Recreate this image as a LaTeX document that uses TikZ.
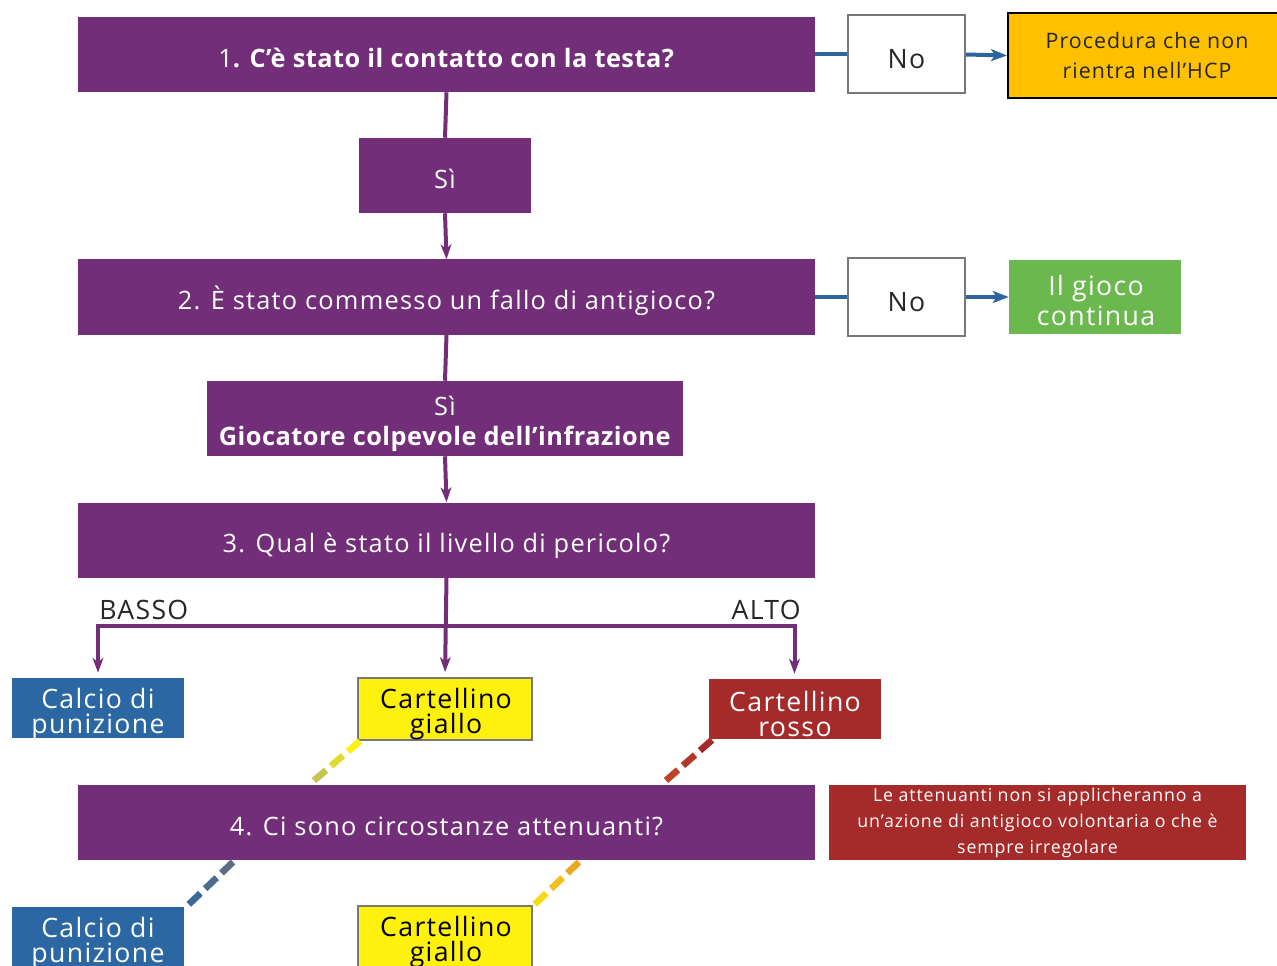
\documentclass[tikz,border=0pt]{standalone}
\usepackage{fontspec}
\setmainfont{Open Sans}[LetterSpace=5, BoldFeatures={LetterSpace=2}]
\usetikzlibrary{arrows.meta,calc}
\definecolor{viola}{RGB}{115,46,122}
\definecolor{blu}{RGB}{43,103,163}
\definecolor{bluline}{RGB}{46,100,160}
\definecolor{giallo}{RGB}{255,241,14}
\definecolor{rosso}{RGB}{165,42,42}
\definecolor{verde}{RGB}{107,184,79}
\definecolor{arancio}{RGB}{255,192,0}
\definecolor{grigio}{RGB}{120,120,120}
\definecolor{oliva}{RGB}{170,175,110}
\definecolor{rossob}{RGB}{200,80,40}
\definecolor{bluscuro}{RGB}{90,110,130}
\definecolor{ocra}{RGB}{235,168,39}
\newcommand{\gradline}[4]{%
  \foreach \t in {0,0.34,0.68}{%
    \pgfmathtruncatemacro{\pc}{100-100*\t}%
    \draw[line width=5pt, #3!\pc!#4] ($(#1)!\t!(#2)$) -- ($(#1)!\t+0.24!(#2)$);
  }%
}
\begin{document}
\begin{tikzpicture}[x=0.75pt,y=-0.75pt,
  pbox/.style={fill=viola, text=white, inner sep=0pt, align=center, text depth=0pt, text height=18.8pt,
     minimum width=552.75pt, minimum height=56.25pt, font=\fontsize{19}{22}\selectfont},
  cbox/.style={inner sep=0pt, minimum width=129pt, minimum height=45pt},
  ctxt/.style={font=\fontsize{20}{19}\selectfont, align=center, inner sep=0pt},
  nobox/.style={draw=grigio, line width=1.5pt, fill=white, minimum width=87.75pt, text depth=0pt, text height=21pt,
     minimum height=58.5pt, inner sep=0pt, font=\fontsize{20}{24}\selectfont, text=black!85},
  pline/.style={draw=viola, line width=3pt},
  parrow/.style={pline, -{Stealth[length=11pt,width=8pt,inset=3pt]}},
  bline/.style={draw=bluline, line width=3pt},
  barrow/.style={bline, -{Stealth[length=12pt,width=9pt,inset=3pt]}},
  lbl/.style={inner sep=0pt, font=\fontsize{20}{22}\selectfont, text=black!85}
]
\useasboundingbox (0,0) rectangle (1277,966);

% main purple boxes
\node[pbox] (b1) at (446.5,54.5) {1\textbf{. C’è stato il contatto con la testa?}};
\node[pbox, minimum width=129pt] (si1) at (445,175.5) {Sì};
\node[pbox] (b2) at (446.5,297) {2. È stato commesso un fallo di antigioco?};
\node[pbox, minimum width=357pt] (si2) at (445,418.5) {};
\node[text=white, align=center, inner sep=0pt, font=\fontsize{19}{23}\selectfont] (si2t) at (445,424) {Sì\\\textbf{Giocatore colpevole dell’infrazione}};
\node[pbox] (b3) at (446.5,540) {3. Qual è stato il livello di pericolo?};
\node[pbox] (b4) at (446.5,822.5) {4. Ci sono circostanze attenuanti?};

% right side
\node[nobox] (no1) at (906.5,54.5) {No};
\node[draw=black, line width=1.5pt, fill=arancio, inner sep=0pt, align=center,
  minimum width=208.5pt, minimum height=63.75pt, font=\fontsize{16}{23}\selectfont,
  text=black!85] (proc) at (1147,55.5) {Procedura che non\\rientra nell’HCP};
\node[nobox] (no2) at (906.5,297) {No};
\node[fill=verde, inner sep=0pt, minimum width=129pt, minimum height=55.5pt] (gioco) at (1095,297) {};
\node[text=white, align=center, inner sep=0pt, font=\fontsize{20}{22.5}\selectfont] (giocot) at (1096,300) {Il gioco\\continua};
\node[fill=rosso, text=white, inner sep=0pt, align=center, minimum width=312.75pt,
  minimum height=56.25pt, font=\fontsize{13.3}{19.5}\selectfont] (nota) at (1037.5,822.5)
  {Le attenuanti non si applicheranno a\\un’azione di antigioco volontaria o che è\\sempre irregolare};

% outcome boxes
\node[cbox, fill=blu] (calcio1) at (98,708) {};
\node[ctxt, text=white] (calcio1t) at (98,714) {Calcio di\\punizione};
\node[cbox, fill=giallo, draw=grigio, line width=1.5pt, minimum width=130.5pt, minimum height=46.5pt] (giallo1) at (445,709) {};
\node[ctxt] (giallo1t) at (446,714) {Cartellino\\giallo};
\node[cbox, fill=rosso] (rosso1) at (794.5,709) {};
\node[ctxt, text=white] (rosso1t) at (795,714) {Cartellino\\rosso};
\node[cbox, fill=blu] (calcio2) at (98,937) {};
\node[ctxt, text=white] (calcio2t) at (98,943) {Calcio di\\punizione};
\node[cbox, fill=giallo, draw=grigio, line width=1.5pt, minimum width=130.5pt, minimum height=46.5pt] (giallo2) at (445,937) {};
\node[ctxt] (giallo2t) at (446,942) {Cartellino\\giallo};

% purple connectors
\draw[pline] (b1.south) -- (si1.north);
\draw[parrow] (si1.south) -- (b2.north);
\draw[pline] (b2.south) -- (si2.north);
\draw[parrow] (si2.south) -- (b3.north);
\coordinate (split) at ($(b3.south)+(0,48)$);
\draw[parrow, shorten >=3.75pt] (b3.south) -- (giallo1.north);
\draw[parrow, shorten >=3.75pt] (split) -| (calcio1.north);
\draw[parrow, shorten >=3.75pt] (split) -| (rosso1.north);
\node[lbl, anchor=south west] (basso) at (99,620) {BASSO};
\node[lbl, anchor=south east] (alto) at (801,620) {ALTO};

% blue connectors
\draw[bline] (b1.east) -- (no1.west);
\draw[barrow] (no1.east) -- (proc.west);
\draw[bline] (b2.east) -- (no2.west);
\draw[barrow] (no2.east) -- (gioco.west);

% dashed gradient connectors
\coordinate (g1a) at (360,741);
\coordinate (g1b) at (310,784);
\gradline{g1a}{g1b}{giallo}{oliva}
\coordinate (r1a) at (712,740);
\coordinate (r1b) at (662,784);
\gradline{r1a}{r1b}{rosso}{rossob}
\coordinate (c2a) at (233,862);
\coordinate (c2b) at (185,908);
\gradline{c2a}{c2b}{bluscuro}{blu}
\coordinate (y2a) at (579,862);
\coordinate (y2b) at (531,908);
\gradline{y2a}{y2b}{ocra}{giallo}
\end{tikzpicture}
\end{document}
